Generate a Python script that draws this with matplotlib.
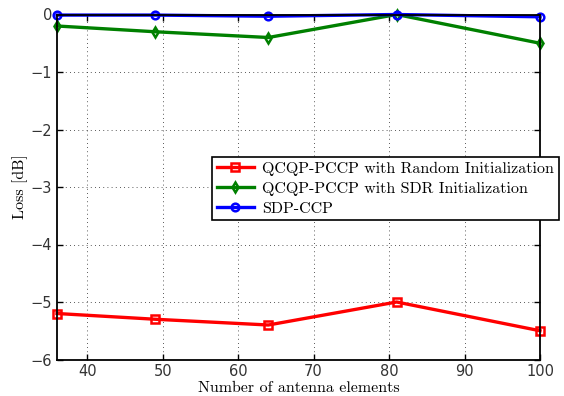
import matplotlib
matplotlib.use("Agg")
import matplotlib.pyplot as plt

antennas = [36, 49, 64, 81, 100]
loss_random = [-5.2, -5.3, -5.4, -5.0, -5.5]
loss_sdr = [-0.2, -0.3, -0.4, 0.0, -0.5]
loss_sdp = [-0.01, -0.01, -0.03, 0.0, -0.04]
labels = ["QCQP-PCCP with Random Initialization",
          "QCQP-PCCP with SDR Initialization",
          "SDP-CCP"]
xticks = [40, 50, 60, 70, 80, 90, 100]
yticks = [0, -1, -2, -3, -4, -5, -6]

plt.rcParams['axes.unicode_minus'] = True
fig = plt.figure(figsize=(5.64, 3.96), dpi=100)
ax = fig.add_axes([57/564, 1-359.5/396, (540-57)/564, (359.5-14.5)/396])

kw = dict(linewidth=2.4, markersize=5.5, markerfacecolor='none', markeredgewidth=1.8, clip_on=False)
l1, = ax.plot(antennas, loss_random, color=(1, 0, 0), marker='s', label=labels[0], **kw)
l2, = ax.plot(antennas, loss_sdr, color=(0, 0.5, 0), marker='d', label=labels[1], **kw)
l3, = ax.plot(antennas, loss_sdp, color=(0, 0, 1), marker='o', label=labels[2], **kw)

ax.set_xlim(36, 100)
ax.set_ylim(-6, 0)
ax.set_xticks(xticks)
ax.set_yticks(yticks)
ax.set_yticklabels([str(t).replace('-', '\u2212') for t in yticks])
ax.tick_params(direction='in', top=True, right=True, length=4, width=1,
               labelsize=10.5, colors='black')
for lab in ax.get_xticklabels() + ax.get_yticklabels():
    lab.set_color('#333333')
for s in ax.spines.values():
    s.set_linewidth(1.3)
ax.grid(True, linestyle=(0, (1, 4)), color='#222222', linewidth=0.6)
ax.set_axisbelow(True)

serif = 'cmr10'
ax.set_xlabel("Number of antenna elements", fontfamily=serif, fontsize=11.5)
ax.xaxis.set_label_coords(0.5, -(388 - 359.5) / 345)
ax.set_ylabel("Loss [dB]", fontfamily=serif, fontsize=11.5)
ax.yaxis.set_label_coords(-(57 - 20) / 483, 0.5)
ax.xaxis.label.set_va('center')
ax.yaxis.label.set_va('center')

leg = fig.legend(handles=[l1, l2, l3], loc='upper left',
                 bbox_to_anchor=(212/564, 1-157/396), bbox_transform=fig.transFigure,
                 prop={'family': serif, 'size': 11.5}, frameon=True, fancybox=False,
                 framealpha=1, edgecolor='black', borderpad=0.3, labelspacing=0.35,
                 handlelength=2.3, handletextpad=0.55, borderaxespad=0)
leg.get_frame().set_linewidth(1.2)

fig.savefig("out.png", dpi=100)
